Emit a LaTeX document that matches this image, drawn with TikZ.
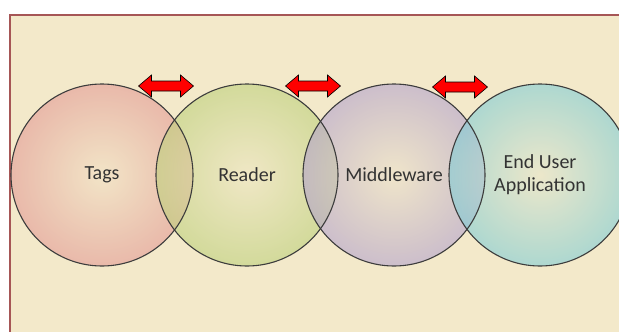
\documentclass[tikz,border=0pt]{standalone}
\usepackage{fontspec}
\setmainfont{Carlito}
\definecolor{bgcream}{HTML}{F3E9CA}
\definecolor{framered}{HTML}{A65656}
\definecolor{tagsc}{HTML}{E08C8C}
\definecolor{readerc}{HTML}{B4CC6E}
\definecolor{midc}{HTML}{A896CC}
\definecolor{endc}{HTML}{6CC8D6}
\definecolor{ringc}{HTML}{3C3C3C}
\tikzset{
  bubble/.style={circle, minimum size=182pt, inner sep=0pt, draw=ringc, line width=1.1pt,
    font=\fontsize{20}{23}\selectfont, text=black!80, align=center},
  linkarrow/.style={draw=black, line width=0.6pt, fill=red, line join=miter}
}
\newcommand{\dblarrow}[1]{%
  \draw[linkarrow] ($(#1)+(-27.5,0)$) -- ++(13,-11) -- ++(0,6) -- ++(29,0) -- ++(0,-6)
    -- ++(13,11) -- ++(-13,11) -- ++(0,-6) -- ++(-29,0) -- ++(0,6) -- cycle;}
\usetikzlibrary{calc}
\begin{document}
\begin{tikzpicture}[x=1pt,y=-1pt]
\useasboundingbox (0,0) rectangle (619,332);
\fill[white] (0,0) rectangle (619,332);
\begin{scope}
\clip (0,0) rectangle (619,332);
\fill[bgcream] (10,15) rectangle (640,350);
\draw[framered, line width=2pt] (10,15) rectangle (640,350);
% bubbles
\foreach \cx/\col in {102/tagsc, 247/readerc, 394/midc, 540/endc}{
  \shade[fill opacity=0.6, inner color=\col!8!bgcream, outer color=\col!85!bgcream]
    (\cx,175) circle (91pt);
}
\node[bubble] (tags) at (102,175) {Tags};
\node[bubble] (reader) at (247,175) {Reader};
\node[bubble] (middleware) at (394,175) {Middleware};
\node[bubble] (enduser) at (540,175) {End User\\Application};
\coordinate (a1) at (166,86);
\coordinate (a2) at (313,86);
\coordinate (a3) at (460,87);
\dblarrow{a1}
\dblarrow{a2}
\dblarrow{a3}
\end{scope}
\end{tikzpicture}
\end{document}
